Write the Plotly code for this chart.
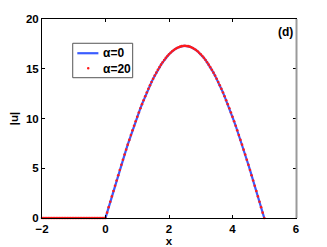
import numpy as np
import plotly.graph_objects as go

# x grid (step 0.05 from -2 to 5)
x_vals = np.round(np.arange(-2.0, 5.0001, 0.05), 2)

# |u|: zero for x<0, hump from x=0 to x=5 peaking ~17.3 at x=2.5
u_neg = [0.0] * 40
u_pos = [0.00, 0.54, 1.09, 1.63, 2.17, 2.71, 3.24, 3.77, 4.30, 4.83,
         5.35, 5.86, 6.37, 6.87, 7.37, 7.85, 8.33, 8.81, 9.27, 9.72,
         10.17, 10.60, 11.03, 11.44, 11.84, 12.23, 12.61, 12.98, 13.33, 13.67,
         14.00, 14.31, 14.61, 14.89, 15.16, 15.41, 15.65, 15.88, 16.09, 16.28,
         16.45, 16.61, 16.76, 16.88, 16.99, 17.09, 17.16, 17.22, 17.27, 17.29,
         17.30,
         17.29, 17.27, 17.22, 17.16, 17.09, 16.99, 16.88, 16.76, 16.61, 16.45,
         16.28, 16.09, 15.88, 15.65, 15.41, 15.16, 14.89, 14.61, 14.31, 14.00,
         13.67, 13.33, 12.98, 12.61, 12.23, 11.84, 11.44, 11.03, 10.60, 10.17,
         9.72, 9.27, 8.81, 8.33, 7.85, 7.37, 6.87, 6.37, 5.86, 5.35,
         4.83, 4.30, 3.77, 3.24, 2.71, 2.17, 1.63, 1.09, 0.54, 0.00]
u_alpha0 = u_neg + u_pos
u_alpha20 = u_neg + u_pos

series_names = ["\u03b1=0", "\u03b1=20"]
x_ticks = [-2, 0, 2, 4, 6]
y_ticks = [0, 5, 10, 15, 20]

FONT = "Liberation Sans, Arial, Helvetica, sans-serif"
FS = 12
TFS = 11.5
BLUE = "#3a5cff"
RED = "#ff1a1a"

fig = go.Figure()
fig.add_trace(go.Scatter(x=x_vals, y=u_alpha0, mode="lines", name=series_names[0],
                         line=dict(color=BLUE, width=2.2), cliponaxis=False, showlegend=False))
fig.add_trace(go.Scatter(x=x_vals, y=u_alpha20, mode="markers", name=series_names[1],
                         marker=dict(color=RED, size=2.6, line=dict(width=0)),
                         cliponaxis=False, showlegend=False))

axis_common = dict(showline=True, linecolor="black", linewidth=1, mirror="ticks",
                   ticks="inside", ticklen=3, tickcolor="black", tickwidth=1,
                   showgrid=False, zeroline=False, automargin=False,
                   tickfont=dict(family=FONT, size=TFS, color="black", weight="bold"))

fig.update_xaxes(range=[-2, 6], tickvals=x_ticks, ticktext=["\u22122", "0", "2", "4", "6"],
                 title=dict(text="x", font=dict(family=FONT, size=TFS, color="black", weight="bold")),
                 **axis_common)
fig.update_yaxes(range=[0, 20], tickvals=y_ticks,
                 title=dict(text="|u|", font=dict(family=FONT, size=TFS, color="black", weight="bold")),
                 **axis_common)

# gray right border as in the reference
fig.add_shape(type="line", xref="paper", yref="paper", x0=1.002, x1=1.002, y0=0, y1=1,
              line=dict(color="#9a9a9a", width=2), layer="above")

fig.add_annotation(text="(d)", xref="paper", yref="paper", x=0.998, y=0.935,
                   xanchor="right", yanchor="middle", showarrow=False,
                   font=dict(family=FONT, size=FS, color="black", weight="bold"))

# legend box (compact, MATLAB style)
fig.add_shape(type="rect", xref="paper", yref="paper", x0=0.121, x1=0.357, y0=0.705, y1=0.878,
              line=dict(color="#555555", width=1), fillcolor="white", layer="above")
fig.add_shape(type="line", xref="paper", yref="paper", x0=0.139, x1=0.222, y0=0.828, y1=0.828,
              line=dict(color=BLUE, width=2.2), layer="above")
fig.add_shape(type="circle", xref="paper", yref="paper", x0=0.177, x1=0.187, y0=0.746, y1=0.759,
              line=dict(width=0), fillcolor=RED, layer="above")
for name, yy in zip(series_names, [0.828, 0.750]):
    fig.add_annotation(text=name, xref="paper", yref="paper", x=0.232, y=yy,
                       xanchor="left", yanchor="middle", showarrow=False,
                       font=dict(family=FONT, size=FS, color="black", weight="bold"))

# page body has an 8px default margin, so the figure is sized/offset to compensate
fig.update_layout(
    width=319, height=239,
    margin=dict(l=34, r=31, t=11, b=29),
    paper_bgcolor="white", plot_bgcolor="white",
    showlegend=False,
)

fig.write_html("out.html")
